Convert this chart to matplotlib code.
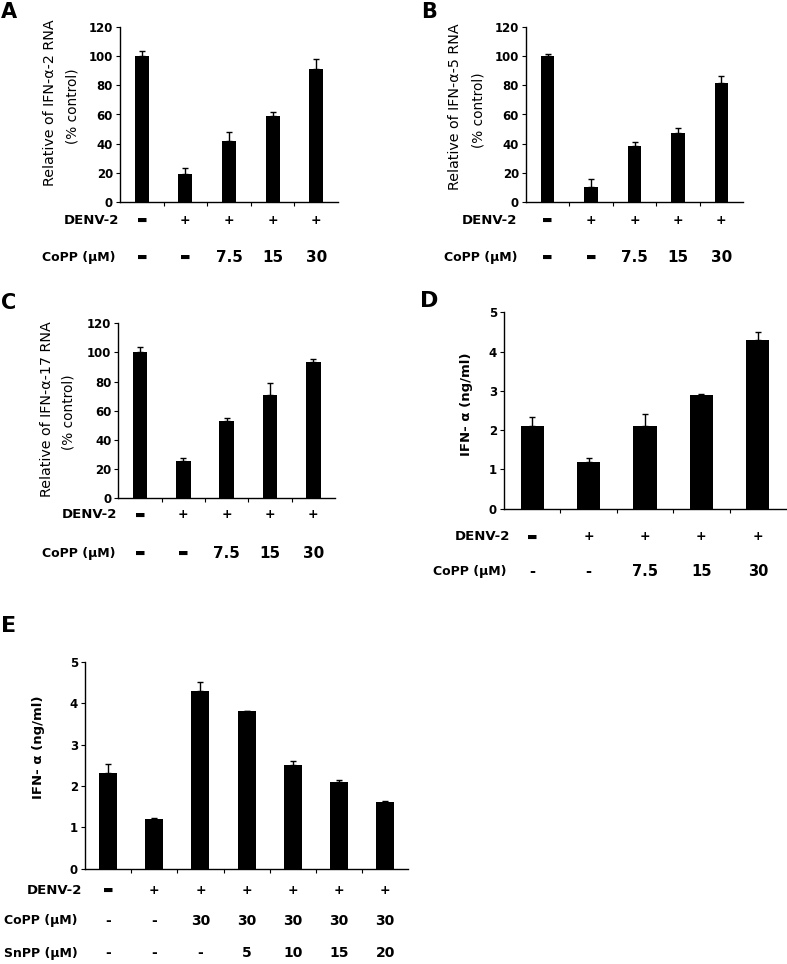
import matplotlib
matplotlib.use("Agg")
import matplotlib.pyplot as plt
from matplotlib.transforms import blended_transform_factory

W, H = 787, 964
DPI = 100

# ---------------- data ----------------
a_vals = [100, 19, 42, 59, 91]
a_err = [4, 4, 6, 3, 7.5]
b_vals = [100, 10.3, 38.6, 47.6, 82]
b_err = [1.5, 5.3, 2.8, 3, 4.6]
c_vals = [100, 25.6, 53, 70.6, 93.7]
c_err = [4, 1.8, 2.3, 8.7, 1.6]
d_vals = [2.1, 1.2, 2.1, 2.9, 4.3]
d_err = [0.24, 0.1, 0.3, 0.02, 0.21]
e_vals = [2.3, 1.2, 4.3, 3.8, 2.5, 2.1, 1.6]
e_err = [0.23, 0.03, 0.22, 0.01, 0.1, 0.05, 0.03]

THICK = "\u25ac"   # thick dash as drawn in the figure
THIN = "-"
denv_5 = [THICK, "+", "+", "+", "+"]
copp_5 = [THICK, THICK, "7.5", "15", "30"]
copp_d = [THIN, THIN, "7.5", "15", "30"]
denv_7 = [THICK, "+", "+", "+", "+", "+", "+"]
copp_7 = [THIN, THIN, "30", "30", "30", "30", "30"]
snpp_7 = [THIN, THIN, THIN, "5", "10", "15", "20"]

ylab_a = ["Relative of IFN-\u03b1-2 RNA", "(% control)"]
ylab_b = ["Relative of IFN-\u03b1-5 RNA", "(% control)"]
ylab_c = ["Relative of IFN-\u03b1-17 RNA", "(% control)"]
ylab_de = "IFN- \u03b1 (ng/ml)"

plt.rcParams['font.family'] = ["DejaVu Sans"]

fig = plt.figure(figsize=(W / DPI, H / DPI), dpi=DPI)


def add_ax(x0, x1, ytop, ybot):
    return fig.add_axes([x0 / W, 1 - ybot / H, (x1 - x0) / W, (ybot - ytop) / H])


def style_panel(ax, vals, errs, width, ymax, yticks, tfs=8.5):
    n = len(vals)
    x = list(range(n))
    ax.bar(x, vals, width=width, color="black", zorder=2)
    ax.errorbar(x, vals, yerr=[[0] * n, errs], fmt="none", ecolor="black",
                elinewidth=1, capsize=2.2, capthick=1, zorder=3)
    ax.set_xlim(-0.5, n - 0.5)
    ax.set_ylim(0, ymax)
    ax.set_yticks(yticks)
    ax.set_yticklabels([str(t) for t in yticks], fontsize=tfs, fontweight="bold")
    ax.set_xticks([i + 0.5 for i in range(n - 1)])
    ax.set_xticklabels([])
    ax.tick_params(axis="x", direction="out", length=3, width=0.8)
    ax.tick_params(axis="y", direction="out", length=3, width=0.8, pad=2)
    for s in ("top", "right"):
        ax.spines[s].set_visible(False)
    for s in ("left", "bottom"):
        ax.spines[s].set_linewidth(1.0)
    ax.patch.set_alpha(0)


def row(ax, labels, label_text, label_x, ypix, lfs=9, nfs=11):
    tr = blended_transform_factory(ax.transData, fig.transFigure)
    yf = 1 - ypix / H
    for i, t in enumerate(labels):
        if t == THICK:
            fs = 8
        elif t == THIN:
            fs = nfs
        elif t == "+":
            fs = 9
        else:
            fs = nfs
        ax.text(i, yf, t, transform=tr, ha="center", va="center",
                fontsize=fs, fontweight="bold", clip_on=False)
    fig.text(label_x / W, yf, label_text, ha="right", va="center",
             fontsize=lfs, fontweight="bold")


def panel_letter(x, y, letter, fs=15):
    fig.text(x / W, 1 - y / H, letter, ha="left", va="center", fontsize=fs, fontweight="bold")


def ylabel(x, y, text, fs=9.5, bold=False):
    fig.text(x / W, 1 - y / H, text, rotation=90, ha="center", va="center",
             fontsize=fs, fontweight="bold" if bold else "normal")


# Panel A
axA = add_ax(120, 338, 27.3, 201.7)
style_panel(axA, a_vals, a_err, 0.32, 120, [0, 20, 40, 60, 80, 100, 120])
row(axA, denv_5, "DENV-2", 119, 220, lfs=9.5)
row(axA, copp_5, "CoPP (\u03bcM)", 115, 257)
panel_letter(1, 12.5, "A")
ylabel(50, 103, ylab_a[0], fs=10.3)
ylabel(72, 106, ylab_a[1], fs=9.8)

# Panel B
axB = add_ax(526, 743, 27.3, 201.7)
style_panel(axB, b_vals, b_err, 0.31, 120, [0, 20, 40, 60, 80, 100, 120])
row(axB, denv_5, "DENV-2", 517, 220, lfs=9.5)
row(axB, copp_5, "CoPP (\u03bcM)", 517, 257)
panel_letter(421, 12.5, "B")
ylabel(455, 107, ylab_b[0], fs=10.3)
ylabel(478, 110, ylab_b[1], fs=9.8)

# Panel C
axC = add_ax(118.3, 335, 323.3, 498.3)
style_panel(axC, c_vals, c_err, 0.34, 120, [0, 20, 40, 60, 80, 100, 120])
row(axC, denv_5, "DENV-2", 117, 515, lfs=9.5)
row(axC, copp_5, "CoPP (\u03bcM)", 115, 553)
panel_letter(1, 303, "C")
ylabel(46.7, 409, ylab_c[0], fs=10.3)
ylabel(69, 412, ylab_c[1], fs=9.8)

# Panel D
axD = add_ax(504, 786, 312.3, 508.7)
style_panel(axD, d_vals, d_err, 0.41, 5, [0, 1, 2, 3, 4, 5])
row(axD, denv_5, "DENV-2", 510, 536.7, lfs=9.5, nfs=10.5)
row(axD, copp_d, "CoPP (\u03bcM)", 507, 571.7, nfs=10.5)
panel_letter(420, 301, "D", fs=16)
ylabel(466.7, 404, ylab_de, fs=9.5, bold=True)

# Panel E
axE = add_ax(85, 408.3, 661.7, 868.7)
style_panel(axE, e_vals, e_err, 0.39, 5, [0, 1, 2, 3, 4, 5])
row(axE, denv_7, "DENV-2", 82, 890, lfs=9.5, nfs=10)
row(axE, copp_7, "CoPP (\u03bcM)", 78, 920.7, nfs=10)
row(axE, snpp_7, "SnPP (\u03bcM)", 78, 953, nfs=10)
panel_letter(1, 626, "E", fs=16)
ylabel(38.3, 747.5, ylab_de, fs=9.5, bold=True)

fig.savefig("out.png", dpi=DPI)
